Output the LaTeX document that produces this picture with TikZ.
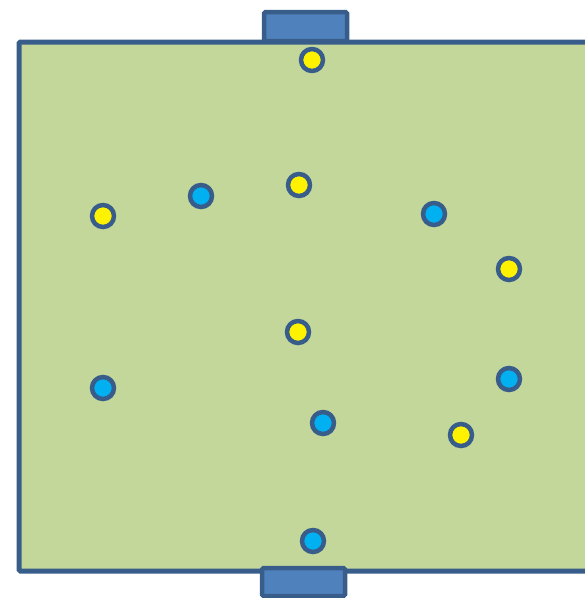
\documentclass[tikz,border=0pt]{standalone}
\definecolor{pitch}{HTML}{C4D79B}
\definecolor{edge}{HTML}{385D8A}
\definecolor{goalblue}{HTML}{4F81BD}
\definecolor{teamb}{HTML}{00B0F0}
\begin{document}
\begin{tikzpicture}[x=1pt,y=-1pt,
  yellowp/.style={circle,draw=edge,line width=4.5pt,fill=yellow,minimum size=22pt,inner sep=0pt},
  bluep/.style={circle,draw=edge,line width=4.5pt,fill=teamb,minimum size=22pt,inner sep=0pt},
  goalbox/.style={draw=edge,line width=4.5pt,fill=goalblue,rounded corners=1.5pt}]
\useasboundingbox (0,0) rectangle (585,598);
\clip (0,0) rectangle (585,598);
% pitch and goals
\draw[edge,fill=pitch,line width=5pt,rounded corners=1.5pt] (19,42) rectangle (610,571);
\draw[goalbox] (264,12) rectangle (347,41);
\draw[goalbox] (262,568) rectangle (345,596);
% yellow team
\node[yellowp] (y1) at (312,60) {};
\node[yellowp] (y2) at (103,216) {};
\node[yellowp] (y3) at (299,185) {};
\node[yellowp] (y4) at (509,269) {};
\node[yellowp] (y5) at (298,332) {};
\node[yellowp] (y6) at (461,435) {};
% blue team
\node[bluep] (b1) at (201,196) {};
\node[bluep] (b2) at (434,214) {};
\node[bluep] (b3) at (103,388) {};
\node[bluep] (b4) at (509,379) {};
\node[bluep] (b5) at (323,423) {};
\node[bluep] (b6) at (313,541) {};
\end{tikzpicture}
\end{document}
